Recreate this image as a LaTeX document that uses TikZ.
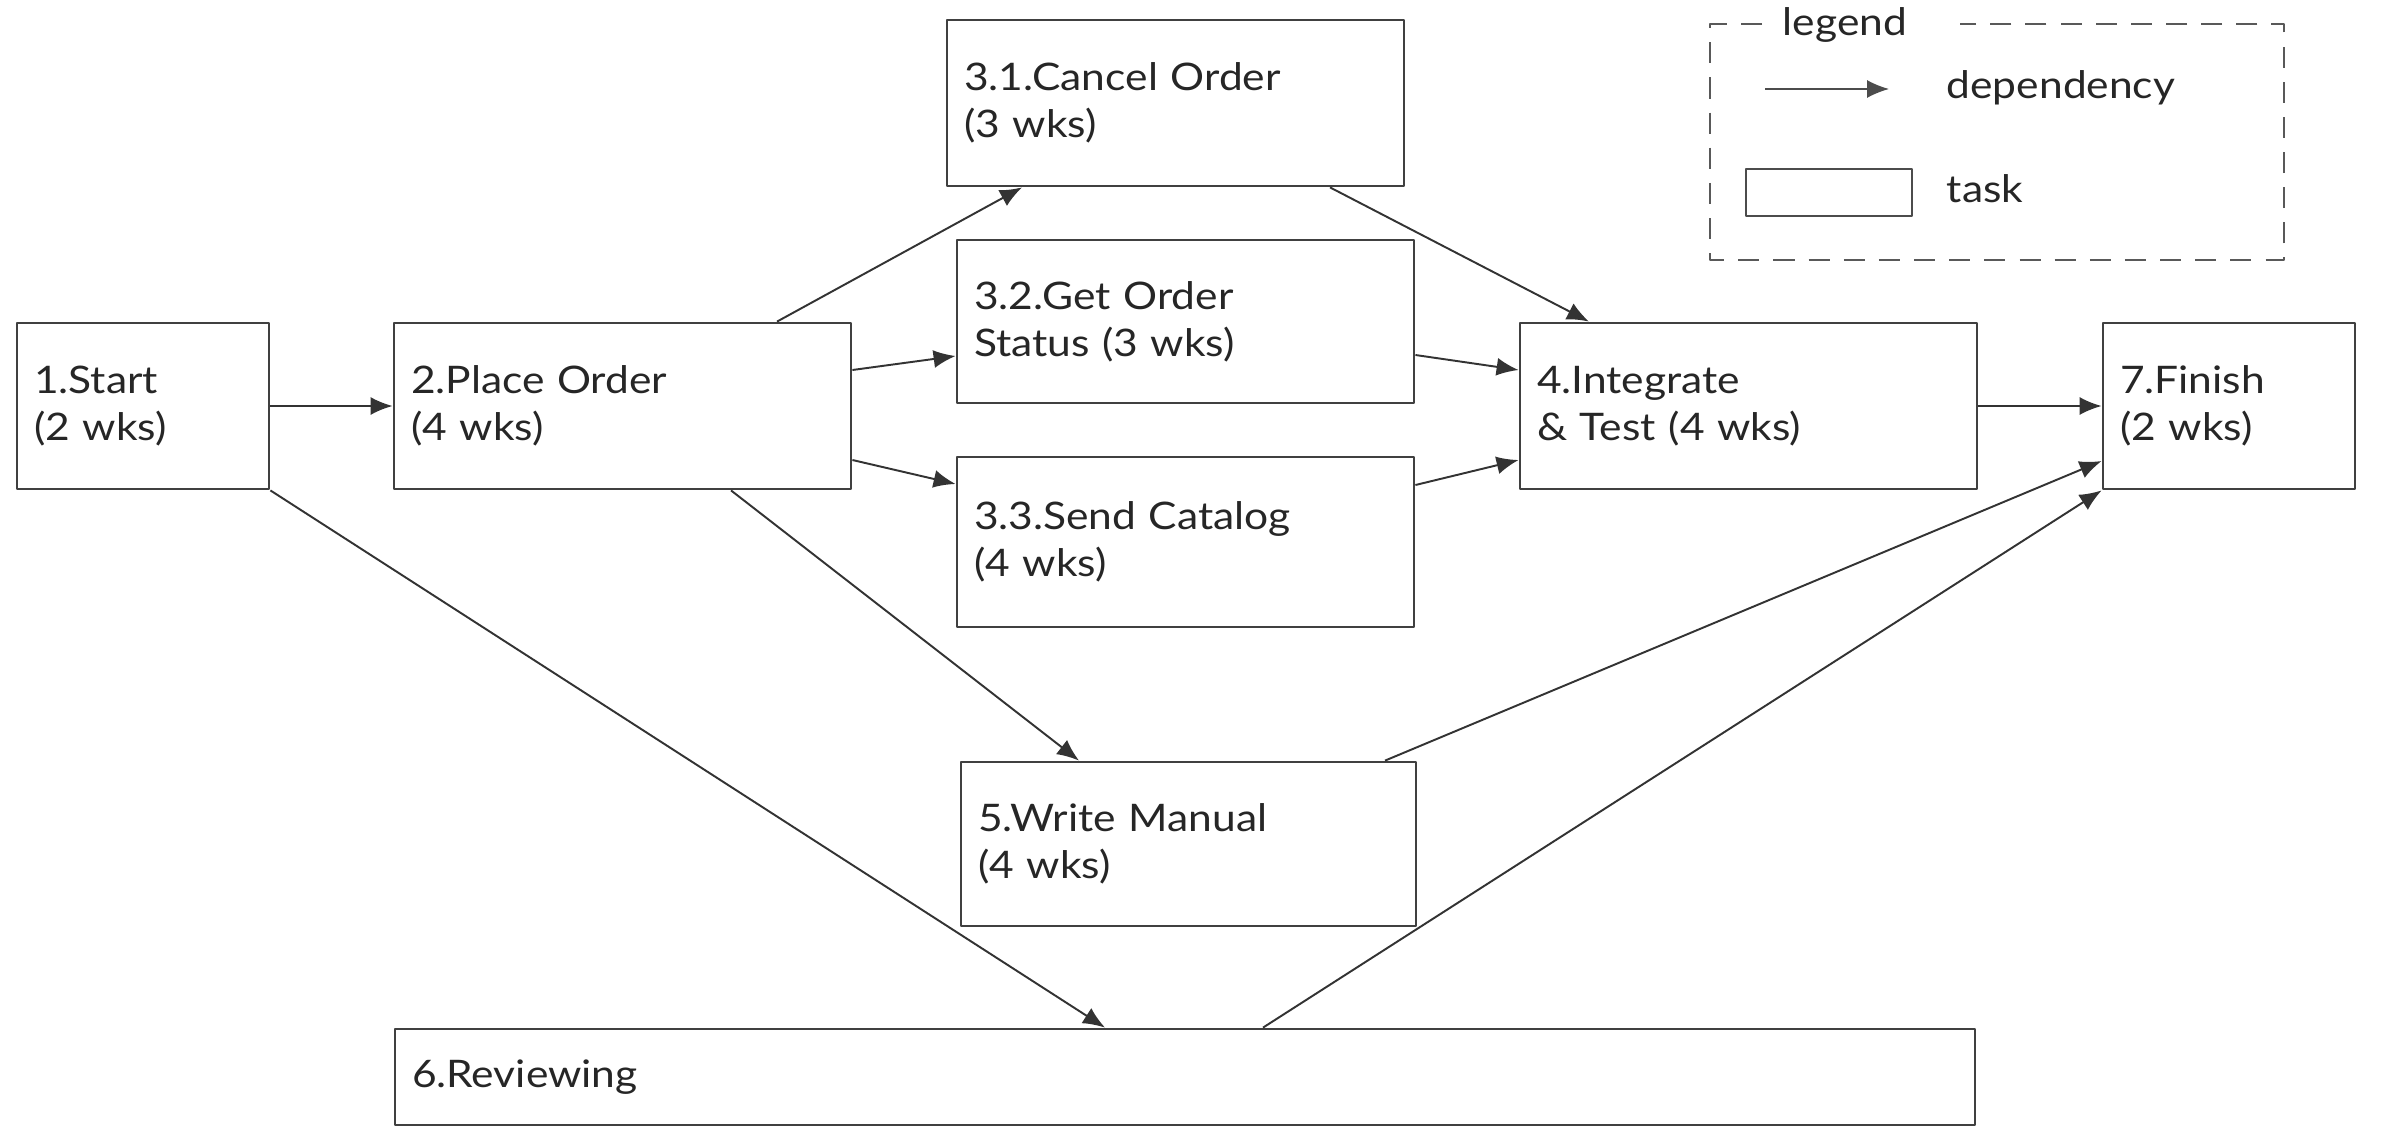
\documentclass[tikz,border=0pt]{standalone}
\usepackage{fontspec}
\setmainfont[FakeStretch=1.12]{Lato}
\usetikzlibrary{arrows.meta}

\begin{document}
\begin{tikzpicture}[line join = round,
    task/.style={draw=black!75, line width=0.8pt, rectangle, align=left,
        inner xsep=0.17cm, inner ysep=0pt, minimum height=1.66cm, text width=#1,
        font=\fontsize{10.8}{13.4}\selectfont, text=black!85},
    dep/.style={draw=black!80, line width=0.55pt, -{Latex[length=2.2mm,width=1.8mm]}},
    key/.style={font=\fontsize{10.8}{13.4}\selectfont, text=black!85, inner sep=0pt}]
    \useasboundingbox (0,0) rectangle (24,-11.46);

    \node [task=2.18cm] (start) at (1.43,-4.06) {1.Start\\(2 wks)};
    \node [task=4.23cm] (place) at (6.225,-4.06) {2.Place Order\\(4 wks)};
    \node [task=4.23cm] (cancel) at (11.755,-1.03) {3.1.Cancel Order\\(3 wks)};
    \node [task=4.23cm, minimum height=1.63cm] (status) at (11.855,-3.215) {3.2.Get Order\\Status (3 wks)};
    \node [task=4.23cm, minimum height=1.70cm] (catalog) at (11.855,-5.42) {3.3.Send Catalog\\(4 wks)};
    \node [task=4.23cm] (integrate) at (17.485,-4.06) {4.Integrate\\\& Test (4 wks)};
    \node [task=2.18cm] (finish) at (22.29,-4.06) {7.Finish\\(2 wks)};
    \node [task=4.21cm, minimum height=1.64cm] (manual) at (11.885,-8.44) {5.Write Manual\\(4 wks)};
    \node [task=15.46cm, minimum height=0.96cm] (review) at (11.85,-10.77) {6.Reviewing};

    %\draw[help lines] (0,0) grid (24,-11.46);
    \draw[dep] (start) -- (place);
    \draw[dep] ([xshift=1.545cm]place.north) -- ([xshift=-1.535cm]cancel.south);
    \draw[dep] ([yshift=0.36cm]place.east) -- ([yshift=-0.345cm]status.west);
    \draw[dep] ([yshift=-0.54cm]place.east) -- ([yshift=0.58cm]catalog.west);
    \draw[dep] (start.south east) -- ([xshift=-0.80cm]review.north);
    \draw[dep] ([xshift=1.085cm]place.south) -- ([xshift=-1.095cm]manual.north);

    \draw[dep] ([xshift=1.545cm]cancel.south) -- ([xshift=-1.595cm]integrate.north);
    \draw[dep] ([yshift=-0.335cm]status.east) -- ([yshift=0.36cm]integrate.west);
    \draw[dep] ([yshift=0.57cm]catalog.east) -- ([yshift=-0.54cm]integrate.west);

    \draw[dep] (integrate) -- (finish);
    \draw[dep] ([xshift=1.965cm]manual.north) -- ([yshift=-0.55cm]finish.west);
    \draw[dep] ([xshift=0.78cm]review.north) -- (finish.south west);

    % legend
    \draw[draw=black!65, line width=0.8pt, dash pattern=on 6pt off 4pt]
        (17.62,-0.24) -- (17.10,-0.24) -- (17.10,-2.60) -- (22.84,-2.60) -- (22.84,-0.24) -- (19.60,-0.24);
    \node [key, anchor=base west] (legend) at (17.82,-0.35) {legend};
    \coordinate (depfrom) at (17.65,-0.89);
    \coordinate (depto) at (18.89,-0.89);
    \draw[dep, draw=black!70, line width=0.45pt] (depfrom) -- (depto);
    \node [key, anchor=base west] (deplabel) at (19.46,-0.98) {dependency};
    \node [draw=black!70, line width=0.6pt, minimum width=1.66cm, minimum height=0.47cm, inner sep=0pt] (taskkey) at (18.29,-1.925) {};
    \node [key, anchor=base west] (tasklabel) at (19.46,-2.02) {task};
\end{tikzpicture}
\end{document}
